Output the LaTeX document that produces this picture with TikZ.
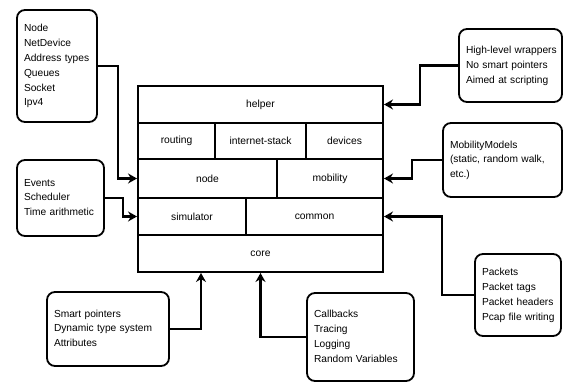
\documentclass[tikz,border=0pt]{standalone}
\usepackage{fontspec}
\setmainfont{Liberation Sans}
\usetikzlibrary{arrows.meta}

\newcommand{\notetext}[1]{\begin{tabular}{@{}l@{}}#1\end{tabular}}

\begin{document}
\begin{tikzpicture}[x=1pt,y=-1pt,
  layer/.style={draw,line width=2pt,inner sep=0pt,font=\fontsize{10.3}{12}\selectfont},
  note/.style={draw,line width=1.8pt,rounded corners=8pt,align=left,inner xsep=7pt,font=\fontsize{10.2}{14.8}\selectfont},
  feed/.style={line width=2.2pt,-{Stealth[length=9pt,width=10pt,inset=3pt]}}]

\useasboundingbox (0,0) rectangle (563,382);

% The layer stack in the middle.
\node[layer,minimum width=245pt,minimum height=37pt] (helper) at (260.5,104.5) {helper};
\node[layer,minimum width=77pt,minimum height=36pt] (routing) at (176.5,141) {routing};
\node[layer,minimum width=91pt,minimum height=36pt] (inetstack) at (260.5,141) {internet-stack};
\node[layer,minimum width=77pt,minimum height=36pt] (devices) at (344.5,141) {devices};
\node[layer,minimum width=139pt,minimum height=39pt] (nodelyr) at (207.5,178.5) {node};
\node[layer,minimum width=106pt,minimum height=39pt] (mobility) at (330,178.5) {mobility};
\node[layer,minimum width=108pt,minimum height=37pt] (simulator) at (192,216.5) {simulator};
\node[layer,minimum width=137pt,minimum height=37pt] (common) at (314.5,216.5) {common};
\node[layer,minimum width=245pt,minimum height=37pt] (core) at (260.5,253.5) {core};

% Notes round the stack.
\node[note,text width=66pt,minimum height=112pt] (nodenote) at (57,66) {\notetext{Node\\NetDevice\\Address types\\Queues\\Socket\\Ipv4}};
\node[note,text width=73pt,minimum height=76pt] (events) at (60.5,198) {\notetext{Events\\Scheduler\\Time arithmetic}};
\node[note,text width=89pt,minimum height=73pt] (helpernote) at (510.5,65.5) {\notetext{High-level wrappers\\No smart pointers\\Aimed at scripting}};
\node[note,text width=105pt,minimum height=74pt] (mobnote) at (502.5,160) {\notetext{MobilityModels\\(static, random walk,\\etc.)}};
\node[note,text width=72pt,minimum height=82pt] (pktnote) at (518,295) {\notetext{Packets\\Packet tags\\Packet headers\\Pcap file writing}};
\node[note,text width=108pt,minimum height=74pt] (ptrnote) at (108,329) {\notetext{Smart pointers\\Dynamic type system\\Attributes}};
\node[note,text width=93pt,minimum height=88pt] (cbnote) at (360.5,337) {\notetext{Callbacks\\Tracing\\Logging\\Random Variables}};

% Connectors into the stack.
\draw[feed] (nodenote.east) -- ++(20,0) |- (nodelyr.west);
\draw[feed] (events.east) -- ++(18,0) |- (simulator.west);
\draw[feed] (helpernote.west) -- ++(-38,0) |- (helper.east);
\draw[feed] (mobnote.west) -- ++(-30,0) |- (mobility.east);
\draw[feed] (pktnote.west) -- ++(-32,0) |- (common.east);
\draw[feed] (ptrnote.east) -| ([xshift=-59.5pt]core.south);
\draw[feed] (cbnote.west) -| (core.south);

\end{tikzpicture}
\end{document}
